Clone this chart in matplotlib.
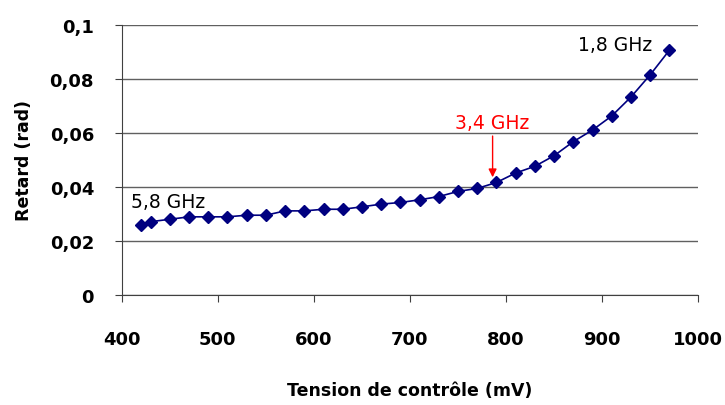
import matplotlib
matplotlib.use("Agg")
import matplotlib.pyplot as plt

# control voltage (mV) and measured delay (rad)
tension = [420, 430, 450, 470, 490, 510, 530, 550, 570, 590, 610, 630, 650,
           670, 690, 710, 730, 750, 770, 790, 810, 830, 850, 870, 890, 910,
           930, 950, 970]
retard = [0.0258, 0.0271, 0.0280, 0.0289, 0.0289, 0.0289, 0.0295, 0.0295,
          0.0311, 0.0311, 0.0317, 0.0317, 0.0326, 0.0336, 0.0342, 0.0352,
          0.0364, 0.0383, 0.0394, 0.0416, 0.0451, 0.0476, 0.0515, 0.0567,
          0.0610, 0.0662, 0.0732, 0.0814, 0.0905]

xticks = [400, 500, 600, 700, 800, 900, 1000]
yticks = [0, 0.02, 0.04, 0.06, 0.08, 0.1]
ylabels = ["0", "0,02", "0,04", "0,06", "0,08", "0,1"]

plt.rcParams['font.family'] = ['DejaVu Sans']

fig = plt.figure(figsize=(7.25, 4.06), dpi=100)
ax = fig.add_axes([0.168, 0.271, 0.795, 0.666])

ax.plot(tension, retard, color='#000080', lw=1.2, marker='D',
        markersize=6.5, markerfacecolor='#000080', markeredgecolor='#000080')

ax.set_xlim(400, 1000)
ax.set_ylim(0, 0.1)
ax.set_xticks(xticks)
ax.set_xticklabels([str(t) for t in xticks], fontsize=13, fontweight='bold')
ax.set_yticks(yticks)
ax.set_yticklabels(ylabels, fontsize=13, fontweight='bold')
ax.tick_params(axis='both', direction='out', length=5, color='#404040')
ax.tick_params(axis='x', pad=20)
ax.tick_params(axis='y', pad=15)

ax.yaxis.grid(True, color='#606060', lw=1)
ax.set_axisbelow(True)
for s in ['top', 'right']:
    ax.spines[s].set_visible(False)
for s in ['left', 'bottom']:
    ax.spines[s].set_color('#404040')

ax.set_xlabel('Tension de contrôle (mV)', fontsize=12.5, fontweight='bold', labelpad=24)
ax.set_ylabel('Retard (rad)', fontsize=12.5, fontweight='bold', labelpad=12)

# frequency annotations
ax.text(410, 0.0345, '5,8 GHz', fontsize=13.5, va='center', ha='left')
ax.text(914, 0.0926, '1,8 GHz', fontsize=13.5, va='center', ha='center')
ax.text(785, 0.0637, '3,4 GHz', fontsize=13.5, va='center', ha='center', color='red')
ax.annotate('', xy=(786, 0.0425), xytext=(786, 0.0598),
            arrowprops=dict(arrowstyle='-|>', color='red', lw=1, mutation_scale=12))

fig.savefig('out.png', dpi=100)
